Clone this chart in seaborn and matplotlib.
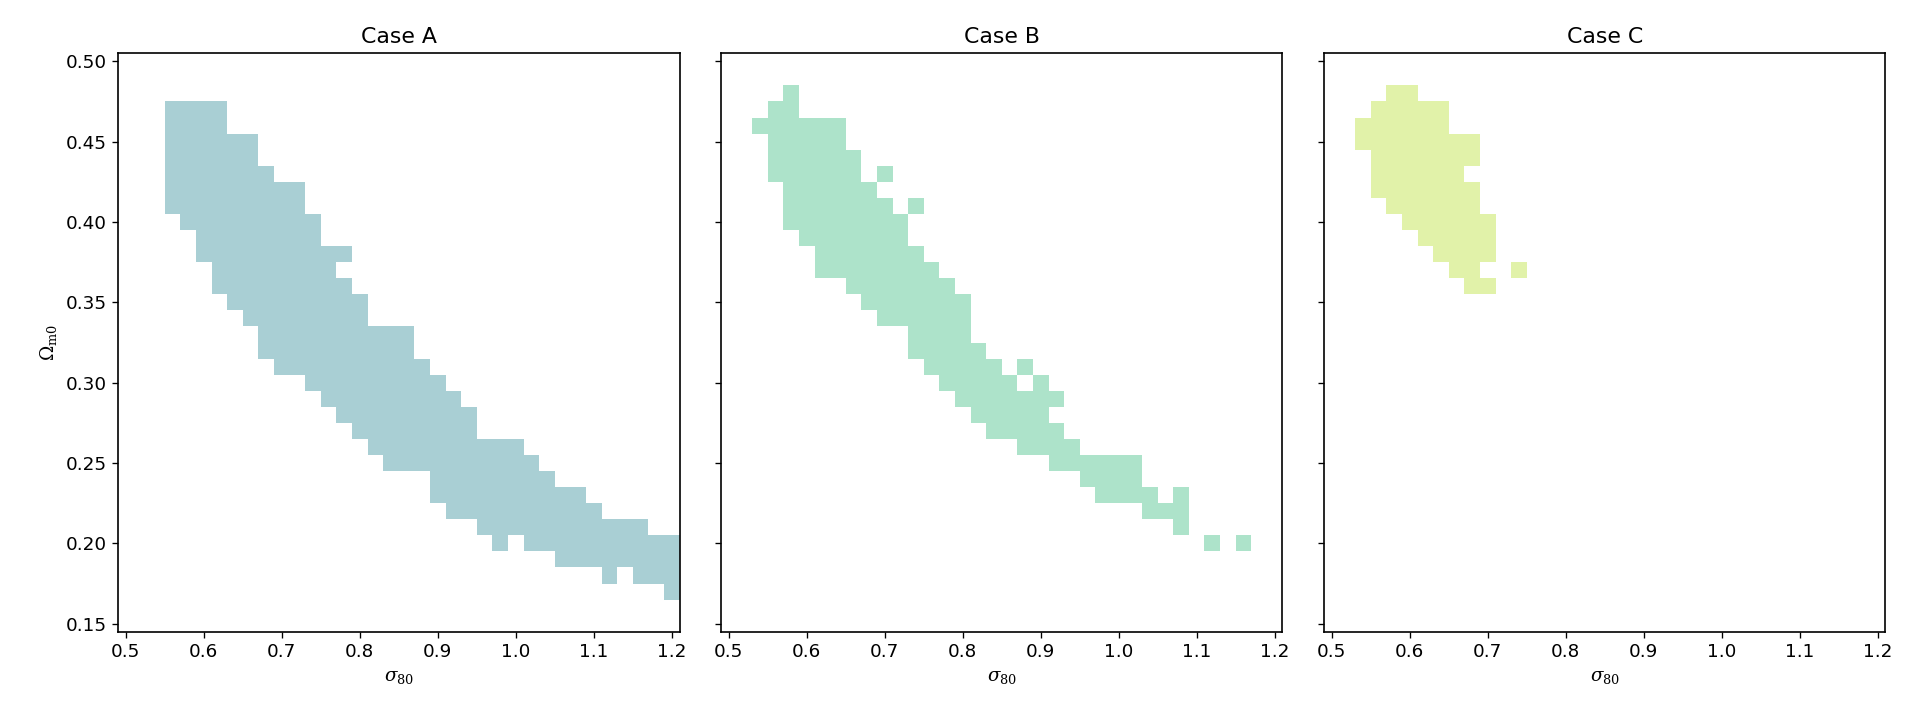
import numpy as np
import matplotlib
matplotlib.use("Agg")
import matplotlib.pyplot as plt
from matplotlib.colors import ListedColormap
import seaborn as sns

# ---------------- data ----------------
titles = ["Case A", "Case B", "Case C"]
colors = ["#a9cfd4", "#ade3ca", "#e1f2a9"]

# Omega_m0 row centres and the sigma_80 runs (left edge, right edge) filled in each row
rows_a = [0.47, 0.46, 0.45, 0.44, 0.43, 0.42, 0.41, 0.40, 0.39, 0.38, 0.37, 0.36,
          0.35, 0.34, 0.33, 0.32, 0.31, 0.30, 0.29, 0.28, 0.27, 0.26, 0.25, 0.24,
          0.23, 0.22, 0.21, 0.20, 0.19, 0.18, 0.17]
runs_a = [[(0.55, 0.63)], [(0.55, 0.63)], [(0.55, 0.67)], [(0.55, 0.67)],
          [(0.55, 0.69)], [(0.55, 0.73)], [(0.55, 0.73)], [(0.57, 0.75)],
          [(0.59, 0.75)], [(0.59, 0.79)], [(0.61, 0.77)], [(0.61, 0.79)],
          [(0.63, 0.81)], [(0.65, 0.81)], [(0.67, 0.87)], [(0.67, 0.87)],
          [(0.69, 0.89)], [(0.73, 0.91)], [(0.75, 0.93)], [(0.77, 0.95)],
          [(0.79, 0.95)], [(0.81, 1.01)], [(0.83, 1.03)], [(0.89, 1.05)],
          [(0.89, 1.09)], [(0.91, 1.11)], [(0.95, 1.17)],
          [(0.97, 0.99), (1.01, 1.21)], [(1.05, 1.21)],
          [(1.11, 1.13), (1.15, 1.21)], [(1.19, 1.21)]]

rows_b = [0.48, 0.47, 0.46, 0.45, 0.44, 0.43, 0.42, 0.41, 0.40, 0.39, 0.38, 0.37,
          0.36, 0.35, 0.34, 0.33, 0.32, 0.31, 0.30, 0.29, 0.28, 0.27, 0.26, 0.25,
          0.24, 0.23, 0.22, 0.21, 0.20]
runs_b = [[(0.57, 0.59)], [(0.55, 0.59)], [(0.53, 0.65)], [(0.55, 0.65)],
          [(0.55, 0.67)], [(0.55, 0.67), (0.69, 0.71)], [(0.57, 0.69)],
          [(0.57, 0.71), (0.73, 0.75)], [(0.57, 0.73)], [(0.59, 0.73)],
          [(0.61, 0.75)], [(0.61, 0.77)], [(0.65, 0.79)], [(0.67, 0.81)],
          [(0.69, 0.81)], [(0.73, 0.81)], [(0.73, 0.83)],
          [(0.75, 0.85), (0.87, 0.89)], [(0.77, 0.87), (0.89, 0.91)],
          [(0.79, 0.93)], [(0.81, 0.91)], [(0.83, 0.93)], [(0.87, 0.95)],
          [(0.91, 1.03)], [(0.95, 1.03)], [(0.97, 1.05), (1.07, 1.09)],
          [(1.03, 1.09)], [(1.07, 1.09)], [(1.11, 1.13), (1.15, 1.17)]]

rows_c = [0.48, 0.47, 0.46, 0.45, 0.44, 0.43, 0.42, 0.41, 0.40, 0.39, 0.38, 0.37, 0.36]
runs_c = [[(0.57, 0.61)], [(0.55, 0.65)], [(0.53, 0.65)], [(0.53, 0.69)],
          [(0.55, 0.69)], [(0.55, 0.67)], [(0.55, 0.69)], [(0.57, 0.69)],
          [(0.59, 0.71)], [(0.61, 0.71)], [(0.63, 0.71)],
          [(0.65, 0.69), (0.73, 0.75)], [(0.67, 0.71)]]

x_ticks = [0.5, 0.6, 0.7, 0.8, 0.9, 1.0, 1.1, 1.2]
y_ticks = [0.15, 0.20, 0.25, 0.30, 0.35, 0.40, 0.45, 0.50]

DX, DY = 0.02, 0.01


def cells(rows, runs):
    xs, ys = [], []
    for y, rr in zip(rows, runs):
        for a, b in rr:
            n = int(round((b - a) / DX))
            for k in range(n):
                xs.append(a + DX / 2 + DX * k)
                ys.append(y)
    return np.array(xs), np.array(ys)


plt.rcParams["font.size"] = 11
plt.rcParams["mathtext.fontset"] = "dejavuserif"

fig, axes = plt.subplots(1, 3, figsize=(16, 6), dpi=120, sharex=True, sharey=True)
fig.subplots_adjust(left=0.0615, right=0.982, bottom=0.1226, top=0.926, wspace=0.074)

x_edges = np.round(np.linspace(0.49, 1.21, 37), 4)
y_edges = np.round(np.linspace(0.145, 0.505, 37), 4)

datasets = [(rows_a, runs_a), (rows_b, runs_b), (rows_c, runs_c)]
for ax, (rows, runs), title, col in zip(axes, datasets, titles, colors):
    xs, ys = cells(rows, runs)
    sns.histplot(x=xs, y=ys, bins=(x_edges, y_edges), cmap=ListedColormap([col]),
                 ax=ax)
    ax.set_title(title, fontsize=13.2)
    ax.set_xlabel(r"$\sigma_{80}$", fontsize=11)
    ax.set_xlim(0.49, 1.21)
    ax.set_ylim(0.145, 0.505)
    ax.set_xticks(x_ticks)
    ax.set_yticks(y_ticks)
    ax.tick_params(labelsize=11)
    for s in ax.spines.values():
        s.set_color("black")
        s.set_linewidth(1.0)

axes[0].set_ylabel(r"$\Omega_{\rm m0}$", fontsize=11)
for ax in axes[1:]:
    ax.set_ylabel("")

fig.savefig("out.png", dpi=120)
